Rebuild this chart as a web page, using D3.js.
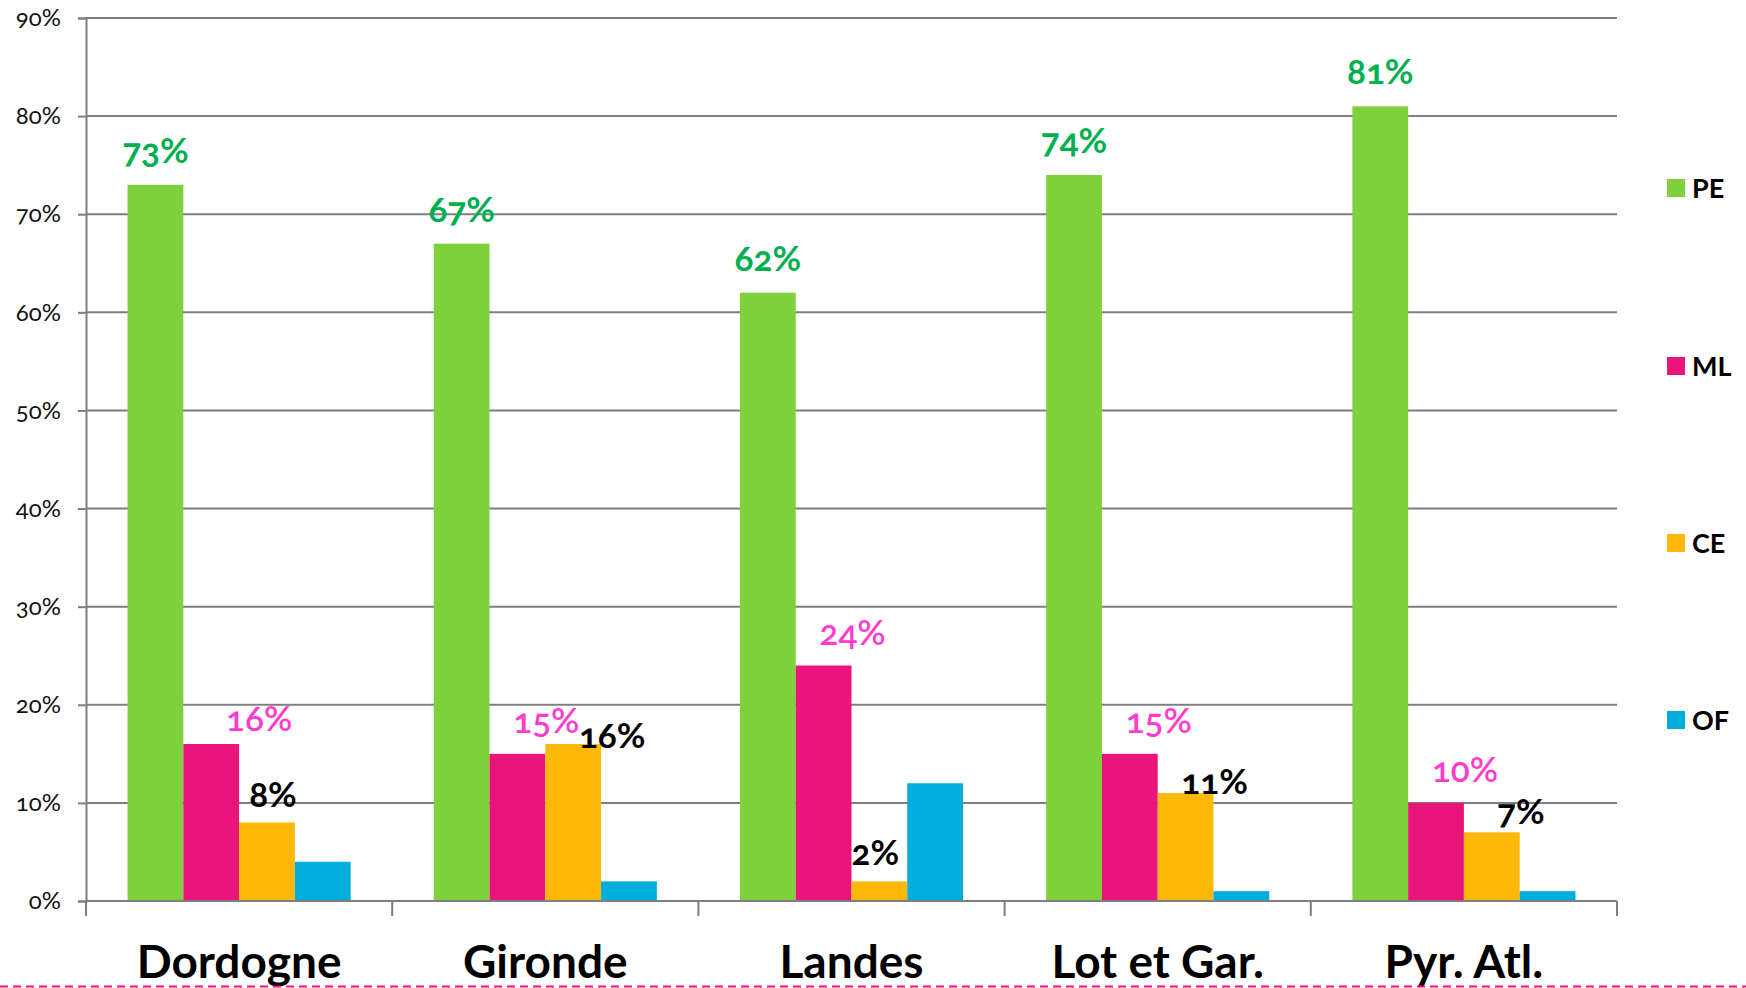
<!DOCTYPE html>
<html><head><meta charset="utf-8">
<script src="https://cdn.jsdelivr.net/npm/d3@7"></script>
<style>
html,body{margin:0;padding:0;background:#fff;}
svg{display:block;font-family:Lato,"Open Sans",sans-serif;font-variant-numeric:oldstyle-nums;}
</style></head>
<body>
<svg id="chart" width="1746" height="988"></svg>
<script>
const categories = ["Dordogne", "Gironde", "Landes", "Lot et Gar.", "Pyr. Atl."];
const seriesNames = ["PE", "ML", "CE", "OF"];
const PE = [73, 67, 62, 74, 81];
const ML = [16, 15, 24, 15, 10];
const CE = [8, 16, 2, 11, 7];
const OF = [4, 2, 12, 1, 1];
const yTicks = [0, 10, 20, 30, 40, 50, 60, 70, 80, 90];
const labelledSeries = ["PE", "ML", "CE"];

const seriesValues = {PE, ML, CE, OF};
const colors = {PE: "#7fd13b", ML: "#ea157a", CE: "#feb80a", OF: "#00addc"};
const labelColors = {PE: "#00b050", ML: "#ff3ccb", CE: "#000"};
// default label offsets relative to the bar top-centre (dx, dy)
const labelOffset = {PE: [0, -22], ML: [29, -21], CE: [29, -16]};
// manual nudges of a few hand-placed labels
const nudges = {"ML|Dordogne": [19, 8], "CE|Dordogne": [-23, 0], "CE|Gironde": [10, 20], "CE|Landes": [-33, 0], "CE|Lot et Gar.": [0, 17], "CE|Pyr. Atl.": [0, 8]};

const svg = d3.select("#chart");
const M = {left: 86, right: 1617, top: 18, bottom: 901};

const x = d3.scaleBand().domain(categories).range([M.left, M.right]).padding(0);
const xs = d3.scaleBand().domain(seriesNames).range([0, x.bandwidth()]).paddingInner(0).paddingOuter(0.745);
const y = d3.scaleLinear().domain([0, 90]).range([M.bottom, M.top]);

// gridlines + y axis
const yAxis = d3.axisLeft(y).tickValues(yTicks).tickSize(8).tickFormat(d => d + "%");
const gy = svg.append("g").attr("transform", `translate(${M.left},0)`).call(yAxis);
gy.select(".domain").attr("stroke", "#7f7f7f").attr("stroke-width", 2);
gy.selectAll(".tick line").attr("stroke", "#7f7f7f").attr("stroke-width", 2);
gy.selectAll(".tick text").attr("x", -25).attr("font-size", 24).attr("fill", "#111").style("font-family", "Lato, sans-serif");
svg.append("g").selectAll("line").data(yTicks).join("line")
  .attr("x1", M.left).attr("x2", M.right)
  .attr("y1", d => y(d)).attr("y2", d => y(d))
  .attr("stroke", "#7f7f7f").attr("stroke-width", 2);

// bars
const groups = svg.append("g").selectAll("g").data(categories).join("g")
  .attr("transform", d => `translate(${x(d)},0)`);
groups.selectAll("rect").data((c, i) => seriesNames.map(s => ({s, c, v: seriesValues[s][i]})))
  .join("rect")
  .attr("x", d => xs(d.s)).attr("width", xs.bandwidth())
  .attr("y", d => y(d.v)).attr("height", d => y(0) - y(d.v))
  .attr("fill", d => colors[d.s]);

// x axis
const xAxis = d3.axisBottom(x).tickSize(0).tickFormat(d => d);
const gx = svg.append("g").attr("transform", `translate(0,${M.bottom})`).call(xAxis);
gx.select(".domain").remove();
gx.selectAll(".tick text").attr("dy", 0).attr("y", 77).attr("font-size", 46).attr("font-weight", "bold")
  .attr("fill", "#000").style("font-family", "Lato, 'Open Sans', sans-serif");
const bounds = categories.map(c => x(c)).concat([M.right]);
svg.append("g").selectAll("line").data(bounds).join("line")
  .attr("x1", d => d).attr("x2", d => d).attr("y1", M.bottom).attr("y2", M.bottom + 15)
  .attr("stroke", "#7f7f7f").attr("stroke-width", 2);
svg.append("line").attr("x1", M.left).attr("x2", M.right).attr("y1", M.bottom).attr("y2", M.bottom)
  .attr("stroke", "#7f7f7f").attr("stroke-width", 2);

// data labels
const labels = [];
labelledSeries.forEach(s => categories.forEach((c, i) => {
  const v = seriesValues[s][i];
  const n = nudges[s + "|" + c] || [0, 0];
  labels.push({s, c, v, dx: labelOffset[s][0] + n[0], dy: labelOffset[s][1] + n[1]});
}));
svg.append("g").selectAll("text").data(labels).join("text")
  .attr("x", d => x(d.c) + xs(d.s) + xs.bandwidth() / 2 + d.dx)
  .attr("y", d => y(d.v) + d.dy)
  .attr("text-anchor", "middle")
  .attr("font-size", 35).attr("font-weight", d => d.s === "ML" ? 600 : "bold")
  .attr("fill", d => labelColors[d.s])
  .text(d => d.v + "%");

// legend
const legendY = {PE: 188, ML: 366, CE: 543, OF: 720};
const lg = svg.append("g").selectAll("g").data(seriesNames).join("g")
  .attr("transform", d => `translate(1667,${legendY[d]})`);
lg.append("rect").attr("x", 0).attr("y", -9).attr("width", 18).attr("height", 18).attr("fill", d => colors[d]);
lg.append("text").attr("x", 25).attr("y", 10).attr("font-size", 27).attr("font-weight", "bold").attr("fill", "#000").text(d => d);

// dashed pink line at bottom
svg.append("line").attr("x1", 0).attr("x2", 1746).attr("y1", 986.5).attr("y2", 986.5)
  .attr("stroke", "#e8157a").attr("stroke-width", 2).attr("stroke-dasharray", "8,5");
</script>
</body></html>
